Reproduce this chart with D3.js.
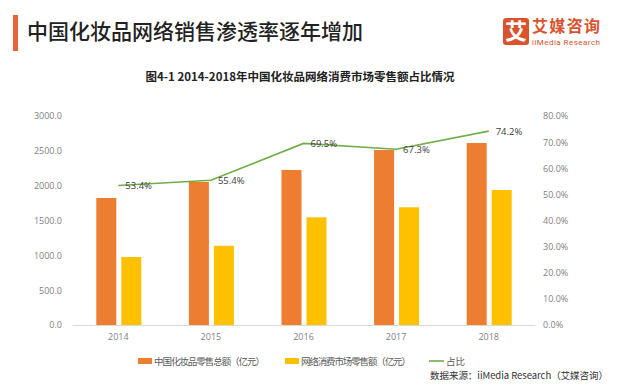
<!DOCTYPE html>
<html><head><meta charset="utf-8">
<script src="https://cdn.jsdelivr.net/npm/d3@7/dist/d3.min.js"></script>
<style>body{margin:0;background:#fff;}svg{display:block;font-family:"Noto Sans CJK SC","Microsoft YaHei",sans-serif;}</style>
</head><body><svg id="c" width="620" height="390"></svg>
<script>
const years = ["2014","2015","2016","2017","2018"];
const totalSales = [1823, 2053, 2225, 2512, 2612];
const onlineSales = [976, 1137, 1546, 1690, 1938];
const shareRate = [53.4, 55.4, 69.5, 67.3, 74.2];
const leftTicks = [0,500,1000,1500,2000,2500,3000];
const rightTicks = [0,10,20,30,40,50,60,70,80];
const seriesNames = ["中国化妆品零售总额（亿元）","网络消费市场零售额（亿元）","占比"];
const colors = ["#ED7D31","#FFC000","#70AD47"];

const svg = d3.select("#c");
// header
svg.append("rect").attr("x",13).attr("y",15).attr("width",5).attr("height",36).attr("fill","#E8643A");
svg.append("text").attr("x",27).attr("y",39).attr("font-size",21).attr("fill","#222").attr("font-weight",500)
  .text("中国化妆品网络销售渗透率逐年增加");
svg.append("rect").attr("x",503).attr("y",18).attr("width",26).attr("height",27).attr("rx",3).attr("fill","#D9532F");
svg.append("text").attr("x",516).attr("y",39).attr("text-anchor","middle").attr("font-size",22).attr("font-weight",700).attr("fill","#fff").text("艾");
svg.append("text").attr("x",532).attr("y",32).attr("font-size",16).attr("font-weight",700).attr("fill","#D9532F").attr("textLength",68).text("艾媒咨询");
svg.append("text").attr("x",532).attr("y",45).attr("font-size",8).attr("fill","#D9532F").attr("font-family","Roboto,sans-serif").attr("textLength",68).text("iiMedia Research");

// subtitle
svg.append("text").attr("x",300).attr("y",81).attr("text-anchor","middle").attr("font-size",11.5).attr("font-weight",700).attr("fill","#222")
  .text("图4-1 2014-2018年中国化妆品网络消费市场零售额占比情况");

const x0=72, x1=535, yTop=116, yBot=325;
const x = d3.scaleBand().domain(years).range([x0,x1]);
const yL = d3.scaleLinear().domain([0,3000]).range([yBot,yTop]);
const yR = d3.scaleLinear().domain([0,80]).range([yBot,yTop]);

// axes
const axL = svg.append("g").attr("transform",`translate(${x0},0)`)
  .call(d3.axisLeft(yL).tickValues(leftTicks).tickFormat(d=>d3.format(".1f")(d)).tickSize(0).tickPadding(10));
axL.select(".domain").remove();
const axR = svg.append("g").attr("transform",`translate(${x1},0)`)
  .call(d3.axisRight(yR).tickValues(rightTicks).tickFormat(d=>d3.format(".1f")(d)+"%").tickSize(0).tickPadding(8));
axR.select(".domain").remove();
const axB = svg.append("g").attr("transform",`translate(0,${yBot})`)
  .call(d3.axisBottom(x).tickSize(0).tickPadding(9));
axB.select(".domain").attr("stroke","#d9d9d9");
svg.selectAll("g text").attr("fill","#7f7f7f").attr("font-size",9).attr("font-family","'Open Sans',sans-serif");

const bw=20, gap=5;
svg.append("g").selectAll("rect").data(years).join("rect")
  .attr("x",d=>x(d)+x.bandwidth()/2-bw-gap/2+0.5).attr("width",bw)
  .attr("y",(d,i)=>yL(totalSales[i])).attr("height",(d,i)=>yBot-yL(totalSales[i])).attr("fill",colors[0]);
svg.append("g").selectAll("rect").data(years).join("rect")
  .attr("x",d=>x(d)+x.bandwidth()/2+gap/2+0.5).attr("width",bw)
  .attr("y",(d,i)=>yL(onlineSales[i])).attr("height",(d,i)=>yBot-yL(onlineSales[i])).attr("fill",colors[1]);

const line = d3.line().x((d,i)=>x(years[i])+x.bandwidth()/2).y(d=>yR(d));
svg.append("path").datum(shareRate).attr("d",line).attr("fill","none").attr("stroke",colors[2]).attr("stroke-width",1.6);
svg.append("g").selectAll("text").data(shareRate).join("text")
  .attr("x",(d,i)=>x(years[i])+x.bandwidth()/2+7).attr("y",d=>yR(d)+4)
  .attr("font-size",9.5).attr("fill","#404040").attr("font-family","'Open Sans',sans-serif")
  .text(d=>d.toFixed(1)+"%");

// legend
const lg = svg.append("g").attr("fill","#595959");
const lx=[138,285,429];
lg.append("rect").attr("x",lx[0]).attr("y",358).attr("width",14).attr("height",6).attr("fill",colors[0]);
lg.append("rect").attr("x",lx[1]).attr("y",358).attr("width",14).attr("height",6).attr("fill",colors[1]);
lg.append("line").attr("x1",lx[2]).attr("x2",lx[2]+15).attr("y1",361).attr("y2",361).attr("stroke",colors[2]).attr("stroke-width",1.6);
lg.selectAll("text").data(seriesNames).join("text").attr("x",(d,i)=>lx[i]+(i==2?17:16)).attr("y",365)
  .attr("font-size",9.5).attr("fill","#595959")
  .each(function(d,i){ if(i<2) d3.select(this).attr("textLength",[111,110][i]); })
  .text(d=>d);

svg.append("text").attr("x",430).attr("y",379).attr("font-size",9.5).attr("fill","#333").attr("textLength",178)
  .text("数据来源：iiMedia Research（艾媒咨询）");
</script></body></html>
